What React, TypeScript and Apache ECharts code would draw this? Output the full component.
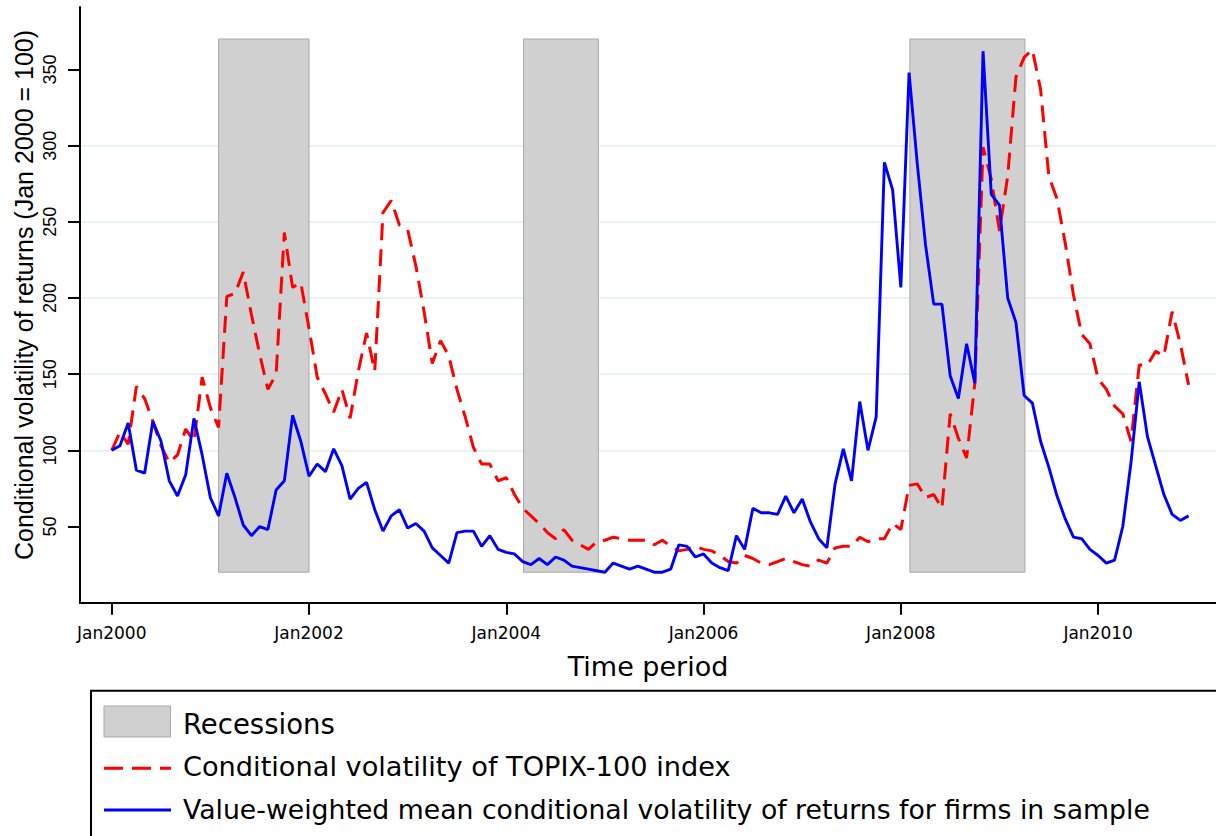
import React, { useEffect, useRef } from "react";
import * as echarts from "echarts";

// Monthly observations, Jan 2000 (index 0) to Dec 2010 (index 131)
const topixVolatility = [
  100, 112, 104, 142, 134, 119, 103, 92, 97, 114, 106, 148,
  128, 115, 201, 203, 217, 189, 163, 140, 150, 243, 207, 210,
  180, 148, 137, 125, 140, 121, 152, 177, 152, 256, 264, 248,
  245, 221, 191, 157, 172, 162, 140, 122, 102, 91, 91, 80,
  82, 71, 62, 57, 52, 46, 42, 48, 41, 38, 35, 40,
  41, 43, 42, 41, 41, 41, 38, 41, 37, 34, 35, 37,
  35, 34, 31, 27, 26, 31, 29, 26, 25, 27, 29, 27,
  25, 24, 28, 26, 36, 37, 37, 43, 40, 42, 42, 52,
  48, 77, 78, 69, 71, 62, 124, 108, 95, 144, 299, 278,
  244, 280, 345, 358, 363, 337, 280, 265, 236, 202, 176, 170,
  147, 140, 129, 124, 106, 156, 156, 165, 162, 191, 170, 143,
];

const firmsVolatility = [
  100, 103, 118, 87, 85, 119, 106, 80, 70, 84, 121, 97,
  69, 57, 85, 69, 51, 44, 50, 48, 74, 80, 123, 106,
  83, 91, 86, 101, 90, 68, 75, 79, 61, 47, 57, 61,
  49, 52, 47, 36, 31, 26, 46, 47, 47, 37, 44, 35,
  33, 32, 27, 25, 29, 25, 30, 28, 24, 23, 22, 21,
  20, 26, 24, 22, 24, 22, 20, 20, 22, 38, 37, 30,
  32, 26, 23, 21, 44, 35, 62, 59, 59, 58, 70, 59,
  68, 53, 42, 36, 78, 101, 80, 132, 100, 122, 289, 271,
  207, 348, 288, 235, 196, 196, 149, 134, 170, 144, 362, 268,
  261, 200, 184, 136, 131, 106, 89, 70, 55, 43, 42, 35,
  31, 26, 28, 50, 92, 145, 109, 90, 71, 58, 54, 57,
];

// Recession periods, in months since Jan 2000
const recessionStart = [13, 50.1, 97.1];
const recessionEnd = [24, 59.2, 111.1];
const recessionLow = 20;
const recessionHigh = 370;

const xTickMonths = [0, 24, 48, 72, 96, 120];
const xTickLabels = ["Jan2000", "Jan2002", "Jan2004", "Jan2006", "Jan2008", "Jan2010"];
const yTickValues = [50, 100, 150, 200, 250, 300, 350];

const seriesNames = [
  "Recessions",
  "Conditional volatility of TOPIX-100 index",
  "Value-weighted mean conditional volatility of returns for firms in sample",
];
const yTitle = "Conditional volatility of returns (Jan 2000 = 100)";
const xTitle = "Time period";

const RED = "#ff0000";
const BLUE = "#0000ff";
const GREY = "#d0d0d0";
const DASH = [17, 9];
const SANS = "DejaVu Sans";
const ARIAL = "Liberation Sans";

export default function App() {
  const ref = useRef<HTMLDivElement>(null);

  useEffect(() => {
    if (!ref.current) return;
    const chart = echarts.init(ref.current, undefined, { renderer: "svg" });

    const recessionData = recessionStart.map((s, i) => [s, recessionEnd[i], recessionLow, recessionHigh]);

    const option: any = {
      animation: false,
      backgroundColor: "#ffffff",
      grid: { left: 80, right: 0, top: 7, bottom: 233.3, containLabel: false },
      xAxis: {
        type: "value",
        min: -3.86,
        max: 134.34,
        name: xTitle,
        nameLocation: "middle",
        nameGap: 50,
        nameTextStyle: { fontFamily: SANS, fontSize: 27, color: "#000" },
        axisLine: { onZero: false, lineStyle: { color: "#000", width: 2 } },
        axisTick: { show: true, length: 12, customValues: xTickMonths, lineStyle: { color: "#000", width: 2 } },
        axisLabel: {
          customValues: xTickMonths,
          margin: 21.5,
          fontFamily: SANS,
          fontSize: 17,
          color: "#000",
          formatter: (v: number) => {
            const i = xTickMonths.indexOf(Math.round(v));
            return i >= 0 ? xTickLabels[i] : "";
          },
        },
        splitLine: { show: false },
      },
      yAxis: {
        type: "value",
        min: 0,
        max: 391,
        interval: 50,
        axisLine: { show: true, onZero: false, lineStyle: { color: "#000", width: 2 } },
        axisTick: { show: true, length: 12, customValues: yTickValues, lineStyle: { color: "#000", width: 2 } },
        axisLabel: {
          customValues: yTickValues,
          rotate: 90,
          margin: 21,
          fontFamily: ARIAL,
          fontSize: 18,
          color: "#000",
        },
        splitLine: {
          show: true,
          showMinLine: false,
          showMaxLine: false,
          lineStyle: { color: "#eaf2f3", width: 2 },
        },
      },
      series: [
        {
          type: "custom",
          name: seriesNames[0],
          z: 1,
          silent: true,
          data: recessionData,
          encode: { x: [0, 1], y: [2, 3] },
          renderItem: (params: any, api: any) => {
            const p0 = api.coord([api.value(0), api.value(3)]);
            const p1 = api.coord([api.value(1), api.value(2)]);
            return {
              type: "rect",
              shape: { x: p0[0], y: p0[1], width: p1[0] - p0[0], height: p1[1] - p0[1] },
              style: { fill: GREY, stroke: "#a9a9a9", lineWidth: 1 },
            };
          },
        },
        {
          type: "line",
          name: seriesNames[1],
          z: 3,
          data: topixVolatility.map((v, i) => [i, v]),
          showSymbol: false,
          symbol: "none",
          lineStyle: { color: RED, width: 3, type: DASH },
        },
        {
          type: "line",
          name: seriesNames[2],
          z: 4,
          data: firmsVolatility.map((v, i) => [i, v]),
          showSymbol: false,
          symbol: "none",
          lineStyle: { color: BLUE, width: 2.9 },
        },
      ],
      graphic: [
        {
          type: "text",
          x: 24,
          y: 295,
          rotation: Math.PI / 2,
          style: {
            text: yTitle,
            fontFamily: ARIAL,
            fontSize: 25,
            fill: "#000",
            align: "center",
            verticalAlign: "middle",
          },
        },
        {
          type: "rect",
          shape: { x: 91, y: 690.7, width: 1200, height: 200 },
          style: { fill: "none", stroke: "#000", lineWidth: 2 },
        },
        {
          type: "rect",
          shape: { x: 104, y: 706, width: 66.5, height: 31 },
          style: { fill: GREY, stroke: "#a9a9a9", lineWidth: 1 },
        },
        {
          type: "line",
          shape: { x1: 104, y1: 768.3, x2: 171, y2: 768.3 },
          style: { stroke: RED, lineWidth: 3, lineDash: [19, 9] },
        },
        {
          type: "line",
          shape: { x1: 104, y1: 810, x2: 171, y2: 810 },
          style: { stroke: BLUE, lineWidth: 3 },
        },
        {
          type: "text",
          x: 183,
          y: 724,
          style: { text: seriesNames[0], fontFamily: SANS, fontSize: 27.5, fill: "#000", align: "left", verticalAlign: "middle" },
        },
        {
          type: "text",
          x: 183,
          y: 766.5,
          style: { text: seriesNames[1], fontFamily: SANS, fontSize: 27.2, fill: "#000", align: "left", verticalAlign: "middle" },
        },
        {
          type: "text",
          x: 183,
          y: 809,
          style: { text: seriesNames[2], fontFamily: SANS, fontSize: 26.7, fill: "#000", align: "left", verticalAlign: "middle" },
        },
      ],
    };

    chart.setOption(option);
    return () => chart.dispose();
  }, []);

  return (
    <div
      ref={ref}
      style={{ position: "fixed", left: 0, top: 0, width: 1216, height: 836, background: "#fff" }}
    />
  );
}
